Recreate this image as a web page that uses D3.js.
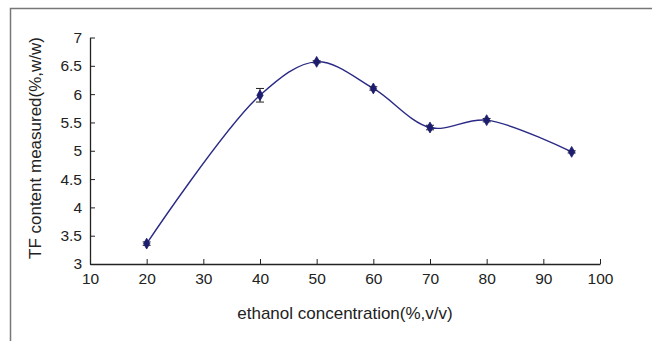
<!DOCTYPE html>
<html><head><meta charset="utf-8">
<script src="https://cdn.jsdelivr.net/npm/d3@7"></script>
<style>body{margin:0;background:#fff}svg{display:block;font-family:"Liberation Sans",Arial,sans-serif}</style>
</head><body><svg id="c" width="652" height="341"></svg>
<script>
const concentration = [20, 40, 50, 60, 70, 80, 95];
const tfContent = [3.36, 5.98, 6.57, 6.10, 5.41, 5.54, 4.98];
const tfError = [0.03, 0.12, 0.02, 0.03, 0.04, 0.03, 0.02];
const xTicks = [10, 20, 30, 40, 50, 60, 70, 80, 90, 100];
const yTicks = [3, 3.5, 4, 4.5, 5, 5.5, 6, 6.5, 7];
const xTitle = "ethanol concentration(%,v/v)";
const yTitle = "TF content measured(%,w/w)";

const svg = d3.select("#c");
const x = d3.scaleLinear().domain([10, 100]).range([90, 600]);
const y = d3.scaleLinear().domain([3, 7]).range([264, 37.5]);

// frame
svg.append("path").attr("d", "M10.5,341V8.5H652").attr("fill", "none").attr("stroke", "#777").attr("stroke-width", 1.5);

const xAxis = svg.append("g").attr("transform", "translate(0,264)")
  .call(d3.axisBottom(x).tickValues(xTicks).tickSizeInner(-5).tickSizeOuter(0).tickPadding(9).tickFormat(d3.format("d")));
const yAxis = svg.append("g").attr("transform", "translate(90,0)")
  .call(d3.axisLeft(y).tickValues(yTicks).tickSizeInner(-5).tickSizeOuter(0).tickPadding(8).tickFormat(d => d));
[xAxis, yAxis].forEach(g => {
  g.select(".domain").attr("stroke", "#222").attr("stroke-width", 1.3);
  g.selectAll(".tick line").attr("stroke", "#222").attr("stroke-width", 1);
  g.selectAll(".tick text").attr("fill", "#222").attr("font-size", 15.5).attr("font-family", "Liberation Sans, Arial, sans-serif");
});

svg.append("text").attr("x", 345).attr("y", 319).attr("text-anchor", "middle")
  .attr("font-size", 17).attr("fill", "#222").text(xTitle);
svg.append("text").attr("transform", "translate(41,148) rotate(-90)").attr("text-anchor", "middle")
  .attr("font-size", 17).attr("fill", "#222").text(yTitle);

const data = concentration.map((c, i) => ({c, v: tfContent[i], e: tfError[i]}));

svg.append("path").datum(data)
  .attr("d", d3.line().x(d => x(d.c)).y(d => y(d.v)).curve(d3.curveCatmullRom.alpha(0.5)))
  .attr("fill", "none").attr("stroke", "#2a2a86").attr("stroke-width", 1.4);

const eb = svg.append("g").attr("stroke", "#222").attr("stroke-width", 1);
data.forEach(d => {
  const x0 = x(d.c), y1 = y(d.v + d.e), y2 = y(d.v - d.e);
  eb.append("line").attr("x1", x0).attr("x2", x0).attr("y1", y1).attr("y2", y2);
  eb.append("line").attr("x1", x0 - 4).attr("x2", x0 + 4).attr("y1", y1).attr("y2", y1);
  eb.append("line").attr("x1", x0 - 4).attr("x2", x0 + 4).attr("y1", y2).attr("y2", y2);
});

svg.append("g").selectAll("path").data(data).join("path")
  .attr("transform", d => `translate(${x(d.c)},${y(d.v)})`)
  .attr("d", d3.symbol(d3.symbolDiamond, 34))
  .attr("fill", "#1d1d70").attr("stroke", "#1d1d70").attr("stroke-width", 0.8);
</script></body></html>
